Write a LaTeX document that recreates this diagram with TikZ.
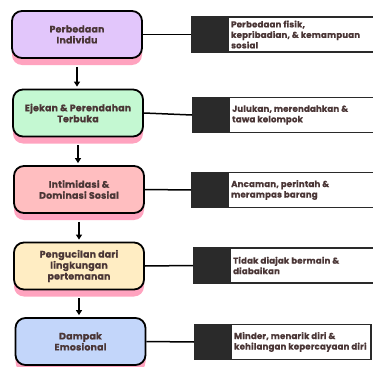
\documentclass[tikz,border=0pt]{standalone}
\usepackage{fontspec}
\setmainfont{Poppins}[BoldFeatures={FakeBold=0.6,LetterSpace=2}]
\usetikzlibrary{shadows,arrows.meta}
\definecolor{lav}{HTML}{E2C6FB}
\definecolor{mint}{HTML}{C4F8D2}
\definecolor{rose}{HTML}{FFBEC0}
\definecolor{cream}{HTML}{FFEDC3}
\definecolor{sky}{HTML}{C3D6FA}
\definecolor{shpink}{HTML}{FFA3BF}
\definecolor{txt}{HTML}{4A3636}
\definecolor{dk}{HTML}{2A2A2A}
\begin{document}
\begin{tikzpicture}[x=1pt,y=-1pt,
  lbox/.style={draw=black, line width=1.8pt, rounded corners=10pt,
    minimum width=130pt, minimum height=47pt, align=center, inner sep=2pt,
    font=\bfseries\fontsize{9.4}{11}\selectfont, text=txt,
    general shadow={fill=shpink, draw=none, shadow yshift=-7pt}},
  rbox/.style={draw=dk, line width=1.6pt, fill=white, minimum height=35pt,
    anchor=west, inner sep=0pt,
    path picture={\fill[dk] (path picture bounding box.south west) rectangle ([xshift=37pt]path picture bounding box.north west);}},
  rtxt/.style={anchor=west, align=left, inner sep=0pt, text=txt,
    font=\bfseries\fontsize{8.6}{10.5}\selectfont},
  arr/.style={line width=1.5pt, -{Triangle[length=5pt,width=6pt]}, shorten <=8pt, shorten >=2pt},
  conn/.style={line width=1.5pt, draw=black}
]
\clip (0,0) rectangle (373,367);
\fill[white] (0,0) rectangle (373,367);

\node[lbox, fill=lav]   (L1) at (77,34.5)  {Perbedaan\\Individu};
\node[lbox, fill=mint]  (L2) at (78,113)   {Ejekan \& Perendahan\\Terbuka};
\node[lbox, fill=rose]  (L3) at (79,189.5) {Intimidasi \&\\Dominasi Sosial};
\node[lbox, fill=cream] (L4) at (79,266)   {Pengucilan dari\\lingkungan\\pertemanan};
\node[lbox, fill=sky]   (L5) at (80.5,341.5) {Dampak\\Emosional};

\node[rbox, minimum width=190pt] (R1) at (191,34.5) {};
\node[rbox, minimum width=190pt] (R2) at (192,115) {};
\node[rbox, minimum width=190pt] (R3) at (191,190) {};
\node[rbox, minimum width=190pt] (R4) at (193,265.5) {};
\node[rbox, minimum width=176pt] (R5) at (194,342) {};

\node[rtxt] (T1) at ([xshift=40pt]R1.west) {Perbedaan fisik,\\kepribadian, \& kemampuan\\sosial};
\node[rtxt] (T2) at ([xshift=40pt]R2.west) {Julukan, merendahkan \&\\tawa kelompok};
\node[rtxt] (T3) at ([xshift=40pt]R3.west) {Ancaman, perintah \&\\merampas barang};
\node[rtxt] (T4) at ([xshift=40pt]R4.west) {Tidak diajak bermain \&\\diabaikan};
\node[rtxt] (T5) at ([xshift=40pt]R5.west) {Minder, menarik diri \&\\kehilangan kepercayaan diri};

\draw[arr] (L1.south) -- (L1.south |- L2.north);
\draw[arr] (L2.south) -- (L2.south |- L3.north);
\draw[arr] (L3.south) -- (L3.south |- L4.north);
\draw[arr] (L4.south) -- (L4.south |- L5.north);

\draw[conn] (L1.east) -- (R1.west);
\draw[conn] (L2.east) -- (R2.west);
\draw[conn] (L3.east) -- (R3.west);
\draw[conn] (L4.east) -- (R4.west);
\draw[conn] (L5.east) -- (R5.west);
\end{tikzpicture}
\end{document}
